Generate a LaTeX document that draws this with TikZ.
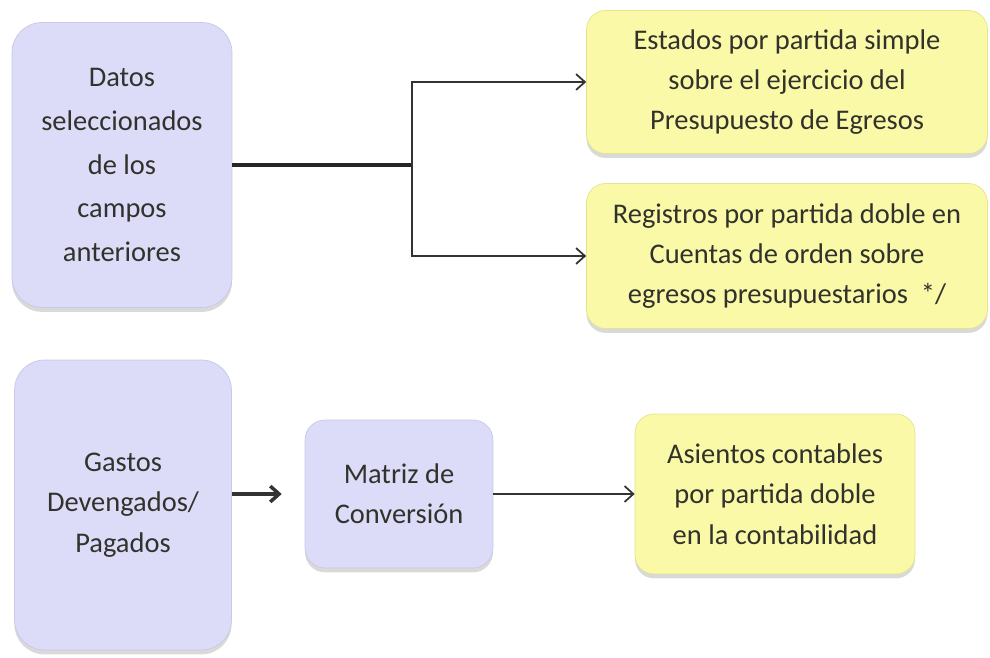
\documentclass[tikz,border=0pt]{standalone}
\usepackage{fontspec}
\setmainfont{Carlito}
\usetikzlibrary{arrows.meta,shadows}

\definecolor{lila}{RGB}{220,220,248}
\definecolor{lilaedge}{RGB}{200,200,232}
\definecolor{amarillo}{RGB}{249,249,168}
\definecolor{amarilloedge}{RGB}{228,228,140}
\definecolor{texto}{RGB}{50,50,44}

\tikzset{
	caja/.style={rectangle, rounded corners=.5cm, align=center, text=texto,
		font=\fontsize{16.2pt}{23pt}\selectfont,
		drop shadow={opacity=.3, shadow xshift=0pt, shadow yshift=-2.5pt}},
	lila/.style={caja, fill=lila, draw=lilaedge},
	amarillo/.style={caja, fill=amarillo, draw=amarilloedge, rounded corners=.38cm},
	flecha/.style={-{Straight Barb[length=5pt,width=9pt]}, line width=1pt, draw=black!80}
}

\begin{document}
\begin{tikzpicture}[x=.02cm,y=-.02cm]
				\useasboundingbox (0,0) rectangle (990,658);
				
				% bloque superior
				\node[lila, minimum width=4.4cm, minimum height=5.7cm, rounded corners=.6cm,
					font=\fontsize{16.2pt}{25pt}\selectfont] (datos) at (122,165)
					{Datos\\seleccionados\\de los\\campos\\anteriores};
				\node[amarillo, minimum width=8.02cm, minimum height=2.86cm] (estados) at (787,82)
					{Estados por partida simple\\sobre el ejercicio del\\Presupuesto de Egresos};
				\node[amarillo, minimum width=8.02cm, minimum height=2.9cm] (registros) at (787,256)
					{Registros por partida doble en\\Cuentas de orden sobre\\egresos presupuestarios\ \ */};
				
				\coordinate (fork) at ([xshift=3.6cm]datos.east);
				\draw[line width=1.8pt, draw=black!85] (datos.east) -- (fork);
				\draw[flecha] (fork) |- (estados.west);
				\draw[flecha] (fork) |- (registros.west);
				
				% bloque inferior
				\node[lila, minimum width=4.34cm, minimum height=5.8cm, rounded corners=.6cm] (gastos) at (123,505)
					{Gastos\\Devengados/\\Pagados};
				\node[lila, minimum width=3.76cm, minimum height=2.96cm, rounded corners=.4cm] (matriz) at (399,494)
					{Matriz de\\Conversión};
				\node[amarillo, minimum width=5.6cm, minimum height=3.2cm] (asientos) at (775,494)
					{Asientos contables\\por partida doble\\en la contabilidad};
				
				\draw[flecha, line width=2pt, shorten >=.46cm] (gastos.east |- matriz.west) -- (matriz.west);
				\draw[flecha] (matriz.east) -- (asientos.west);
	\end{tikzpicture}
\end{document}
